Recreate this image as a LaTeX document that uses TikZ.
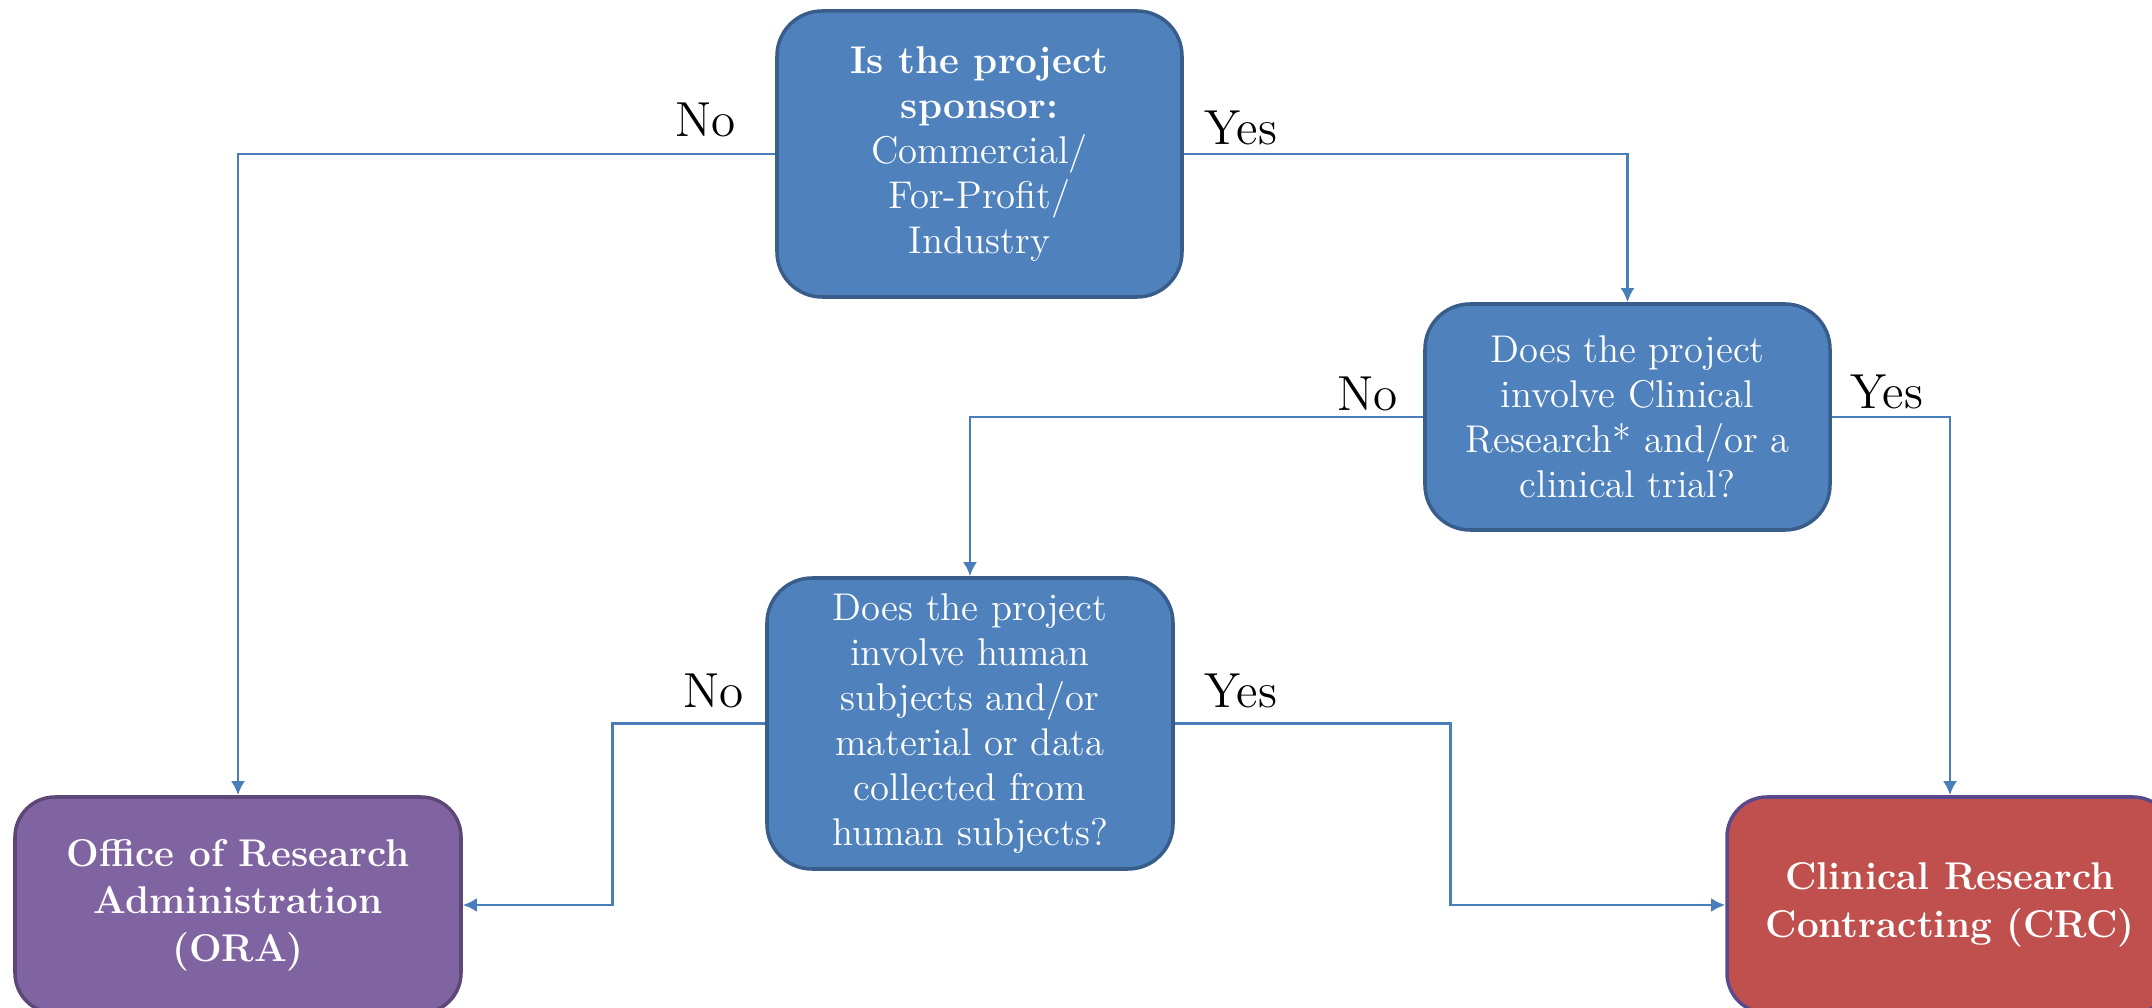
\documentclass[tikz,border=0pt]{standalone}
\usetikzlibrary{arrows.meta}
\definecolor{boxblue}{HTML}{4F81BD}
\definecolor{edgeblue}{HTML}{385D8A}
\definecolor{boxpurple}{HTML}{8064A2}
\definecolor{edgepurple}{HTML}{5C4776}
\definecolor{boxred}{HTML}{C0504D}
\definecolor{edgered}{HTML}{5A4A8C}
\definecolor{linkblue}{HTML}{4A7EBB}

\begin{document}
\begin{tikzpicture}[
  question/.style={draw=edgeblue, line width=1pt, fill=boxblue, rounded corners=0.45cm,
    text=white, align=center, inner sep=0pt, font=\fontsize{11}{12.8}\selectfont},
  office/.style={line width=1pt, rounded corners=0.4cm, text=white, align=center,
    inner sep=0pt, font=\fontsize{11}{13.5}\selectfont\bfseries},
  answer/.style={font=\fontsize{14}{16}\selectfont, inner sep=0pt},
  link/.style={linkblue, line width=0.8pt, -{Latex[length=4pt,width=4pt]}}
]
  \useasboundingbox (0,0) rectangle (21.52,-10.08);

  % the three questions
  \node [question, minimum width=4.05cm, minimum height=2.86cm] (sponsor) at (9.795,-1.54)
    {\textbf{Is the project}\\ \textbf{sponsor:}\\ Commercial/\\ For-Profit/\\ Industry};
  \node [question, minimum width=4.05cm, minimum height=2.26cm] (clinical) at (16.275,-4.17)
    {Does the project\\ involve Clinical\\ Research* and/or a\\ clinical trial?};
  \node [question, minimum width=4.06cm, minimum height=2.91cm] (human) at (9.70,-7.235)
    {Does the project\\ involve human\\ subjects and/or\\ material or data\\ collected from\\ human subjects?};

  % the two offices
  \node [office, draw=edgepurple, fill=boxpurple, minimum width=4.46cm, minimum height=2.16cm] (ora) at (2.38,-9.05)
    {Office of Research\\ Administration\\ (ORA)};
  \node [office, draw=edgered, fill=boxred, minimum width=4.46cm, minimum height=2.16cm] (crc) at (19.5,-9.05)
    {Clinical Research\\ Contracting (CRC)};

  % connectors
  \draw [link] (sponsor.west) -| (ora.north);
  \draw [link] (sponsor.east) -| (clinical.north);
  \draw [link] (clinical.west) -| (human.north);
  \draw [link] (clinical.east) -| (crc.north);
  \draw [link] (human.west) -- ++(-1.53,0) |- (ora.east);
  \draw [link] (human.east) -- ++(2.76,0) |- (crc.west);

  % answers
  \node [answer, anchor=base east] (no1) at ([xshift=-0.39cm, yshift=0.17cm]sponsor.west) {No};
  \node [answer, anchor=base west] (yes1) at ([xshift=0.2cm, yshift=0.09cm]sponsor.east) {Yes};
  \node [answer, anchor=base east] (no2) at ([xshift=-0.25cm, yshift=0.06cm]clinical.west) {No};
  \node [answer, anchor=base west] (yes2) at ([xshift=0.18cm, yshift=0.08cm]clinical.east) {Yes};
  \node [answer, anchor=base east] (no3) at ([xshift=-0.21cm, yshift=0.16cm]human.west) {No};
  \node [answer, anchor=base west] (yes3) at ([xshift=0.29cm, yshift=0.16cm]human.east) {Yes};
\end{tikzpicture}
\end{document}
